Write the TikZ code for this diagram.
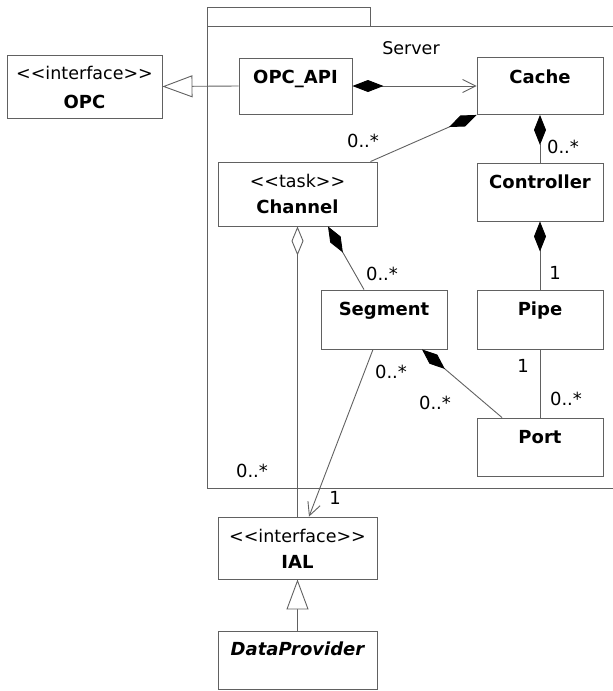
\documentclass[tikz,border=0pt]{standalone}
\usepackage{fontspec}
\setmainfont{DejaVu Sans}
\usetikzlibrary{arrows.meta}
\begin{document}
\begin{tikzpicture}[x=1pt,y=-1pt,
  lc/.style={draw=black!62, line width=0.9pt},
  box/.style={lc, fill=white, inner sep=0pt},
  ster/.style={font=\fontsize{17.5}{20}\selectfont, anchor=base, inner sep=0pt},
  cname/.style={font=\fontsize{18}{21}\selectfont\bfseries, anchor=base, inner sep=0pt},
  mult/.style={font=\fontsize{18}{21}\selectfont, anchor=base, inner sep=0pt},
  conn/.style={draw=black!62, line width=0.9pt},
  comp/.style={conn, {Diamond[length=30pt,width=12pt,color=black,fill=black]}-},
  agg/.style={conn, {Diamond[length=29pt,width=12pt,open,fill=white]}-},
  gen/.style={conn, -{Triangle[length=30pt,width=22pt,open,fill=white]}},
  nav/.style={conn, -{Straight Barb[length=13pt,width=13pt]}},
  compnav/.style={conn, {Diamond[length=31pt,width=12pt,color=black,fill=black]}-{Straight Barb[length=13pt,width=13pt]}}
]
\useasboundingbox (0,0) rectangle (613,691);
\clip (0,0) rectangle (613,691);

% package frame
\draw[lc] (207,7) rectangle (370,26);
\draw[lc] (207,26) rectangle (650,488);
\node[ster] (server) at (411,54) {Server};

% class boxes
\node[box, minimum width=155pt, minimum height=63pt] (opc) at (84.5,86.5) {};
\node[box, minimum width=113pt, minimum height=56pt] (opcapi) at (295.5,86) {};
\node[box, minimum width=126pt, minimum height=57pt] (cache) at (540,86) {};
\node[box, minimum width=159pt, minimum height=64pt] (channel) at (297.5,194) {};
\node[box, minimum width=126pt, minimum height=58pt] (controller) at (540,192) {};
\node[box, minimum width=126pt, minimum height=59pt] (segment) at (384,319.5) {};
\node[box, minimum width=126pt, minimum height=59pt] (pipe) at (540,319.5) {};
\node[box, minimum width=126pt, minimum height=58pt] (port) at (540,447) {};
\node[box, minimum width=159pt, minimum height=62pt] (ial) at (297.5,548) {};
\node[box, minimum width=159pt, minimum height=58pt] (dp) at (297.5,660) {};

% texts
\node[ster] (opc-s) at (84.5,79) {{<}{<}interface{>}{>}};
\node[cname] (opc-n) at (84.5,108) {OPC};
\node[cname] (opcapi-n) at (295.5,83.5) {OPC\_API};
\node[cname] (cache-n) at (540,83) {Cache};
\node[ster] (channel-s) at (297.5,187) {{<}{<}task{>}{>}};
\node[cname] (channel-n) at (297.5,213) {Channel};
\node[cname] (controller-n) at (540,188) {Controller};
\node[cname] (segment-n) at (384,315) {Segment};
\node[cname] (pipe-n) at (540,315) {Pipe};
\node[cname] (port-n) at (540,443) {Port};
\node[ster] (ial-s) at (297.5,542) {{<}{<}interface{>}{>}};
\node[cname] (ial-n) at (297.5,568) {IAL};
\node[cname, font=\fontsize{18}{21}\selectfont\bfseries\itshape] (dp-n) at (297.5,655) {DataProvider};

% connectors
\draw[gen] (opcapi.west) -- (opc.east);
\draw[compnav] (opcapi.east) -- (cache.west);
\draw[comp] (cache.south west) -- ([xshift=-7pt]channel.north east);
\draw[comp] (cache.south) -- (controller.north);
\draw[comp] (controller.south) -- (pipe.north);
\draw[comp] ([xshift=30.5pt]channel.south) -- ([xshift=-20pt]segment.north);
\draw[agg] (channel.south) -- (ial.north);
\draw[nav] ([xshift=-11pt]segment.south) -- ([xshift=11.5pt]ial.north);
\draw[comp] ([xshift=38pt]segment.south) -- ([xshift=-38pt]port.north);
\draw[conn] (pipe.south) -- (port.north);
\draw[gen] (dp.north) -- (ial.south);

% multiplicities
\node[mult] (m1) at (363,147) {0..*};
\node[mult] (m2) at (563,153) {0..*};
\node[mult] (m3) at (382,280) {0..*};
\node[mult] (m4) at (555,279) {1};
\node[mult] (m5) at (523,372) {1};
\node[mult] (m6) at (566,405) {0..*};
\node[mult] (m7) at (391,378) {0..*};
\node[mult] (m8) at (435,409) {0..*};
\node[mult] (m9) at (252,477) {0..*};
\node[mult] (m10) at (335,504) {1};
\end{tikzpicture}
\end{document}
